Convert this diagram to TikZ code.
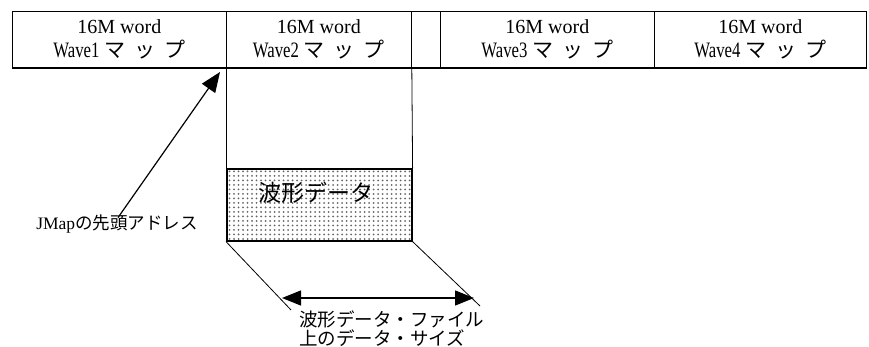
\documentclass[tikz,border=0pt]{standalone}
\usepackage{fontspec}
\setmainfont{Liberation Serif}
\newfontfamily\jp{Noto Sans CJK JP}
\usetikzlibrary{arrows.meta,patterns.meta}
\newcommand\mapword[1]{16M word\\{\fontsize{22}{24}\selectfont\scalebox{0.76}[1]{Wave#1}}\hspace{5pt}{\jp\fontsize{21}{24}\selectfont マ\hspace{9pt}ッ\hspace{9pt}プ}}
\begin{document}
\begin{tikzpicture}[x=1pt,y=-1pt,
  mapbox/.style={draw,line width=0.8pt,minimum height=56pt,inner sep=0pt,align=center,anchor=north west,font=\fontsize{20}{24}\selectfont},
  databox/.style={draw,line width=1.6pt,anchor=north west,inner sep=0pt,pattern={Dots[distance=4.5pt,radius=1pt]},pattern color=black!60},
  thin/.style={line width=0.8pt},
  bigtip/.style={-{Triangle[length=20pt,width=16pt]}},
  dbltip/.style={{Triangle[length=19pt,width=15pt]}-{Triangle[length=19pt,width=15pt]}},
  lbl/.style={inner sep=0pt,align=left}]
\useasboundingbox (0,0) rectangle (869,347);
% top map boxes
\node[mapbox,minimum width=214pt] (w1) at (12,11) {\mapword{1}};
\node[mapbox,minimum width=185pt] (w2) at (226,11) {\mapword{2}};
\node[mapbox,minimum width=29pt] (gap) at (411,11) {};
\node[mapbox,minimum width=214pt] (w3) at (440,11) {\mapword{3}};
\node[mapbox,minimum width=212pt] (w4) at (654,11) {\mapword{4}};
\draw[line width=1.8pt] (w1.south west) -- (w4.south east);
% data box
\node[databox,minimum width=185pt,minimum height=72pt] (data) at (226,168) {};
\node[lbl,font=\jp\fontsize{23}{26}\selectfont] (dt) at (316,193) {波形データ};
\draw[thin] (w2.south west) -- (data.north west);
\draw[thin] (w2.south east) -- (data.north east);
% address label and arrow
\node[lbl,font=\fontsize{17.5}{20}\selectfont] (addr) at (117,224) {JMap{\jp の先頭アドレス}};
\coordinate (tip) at (220,72);
\draw[line width=1.2pt,bigtip] ([xshift=1pt,yshift=-3pt]addr.north) -- (tip);
% size projection lines
\coordinate (dl) at (291,310);
\coordinate (dr) at (480,306);
\draw[thin] (data.south west) -- (dl);
\draw[thin] (data.south east) -- (dr);
\coordinate (al) at (282,298);
\coordinate (ar) at (474,298);
\draw[line width=1.4pt,dbltip] (al) -- (ar);
\node[lbl,anchor=north west,font=\jp\fontsize{18.5}{17}\selectfont] (size) at (299,311) {波形データ・ファイル\\上のデータ・サイズ};
\end{tikzpicture}
\end{document}
